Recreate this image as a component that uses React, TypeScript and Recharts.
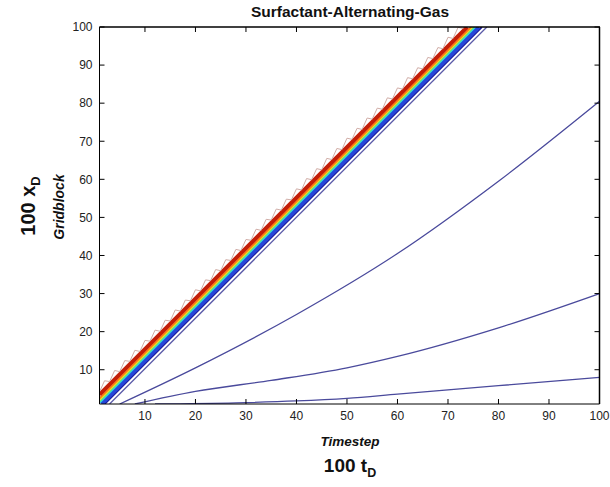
import { LineChart, Line, XAxis, YAxis } from "recharts";

// contour lines of the SAG front as [timestep, gridblock] pairs
const xTicks = [10, 20, 30, 40, 50, 60, 70, 80, 90, 100];
const yTicks = [10, 20, 30, 40, 50, 60, 70, 80, 90, 100];

const redFront = [[1, 3.5], [73.8, 100]];
const orangeFront = [[1, 2.5], [74.55, 100]];
const yellowFront = [[1, 2.1], [74.85, 100]];
const greenFront = [[1, 1.7], [75.15, 100]];
const cyanFront = [[1, 1.3], [75.45, 100]];
const blueFront = [[1.4, 1], [76.1, 100]];
const darkBlueFront = [[2.0, 1], [76.7, 100]];
const trailA = [[3.0, 1], [77.7, 100]];
const trailB = [[5, 1], [20, 10.5], [40, 24.5], [60, 40.5], [80, 59.5], [100, 80.5]];
const trailC = [[8, 1], [20, 4.3], [35, 7.2], [50, 10.5], [60, 13.5], [80, 21], [100, 30]];
const trailD = [[12, 1], [28, 1.3], [40, 1.8], [50, 2.5], [60, 3.6], [80, 5.8], [100, 8]];

const rippleEdge = [
  [1, 4.2], [2, 7.1], [3, 6.9], [4, 9.8], [5, 9.5], [6, 12.4], [7, 12.2], [8, 15.1],
  [9, 14.8], [10, 17.7], [11, 17.5], [12, 20.4], [13, 20.1], [14, 23.0], [15, 22.8],
  [16, 25.7], [17, 25.4], [18, 28.3], [19, 28.1], [20, 31.0], [21, 30.7], [22, 33.6],
  [23, 33.4], [24, 36.3], [25, 36.0], [26, 38.9], [27, 38.7], [28, 41.6], [29, 41.3],
  [30, 44.2], [31, 44.0], [32, 46.9], [33, 46.6], [34, 49.5], [35, 49.3], [36, 52.2],
  [37, 51.9], [38, 54.8], [39, 54.6], [40, 57.5], [41, 57.2], [42, 60.2], [43, 59.9],
  [44, 62.8], [45, 62.5], [46, 65.5], [47, 65.2], [48, 68.1], [49, 67.8], [50, 70.8],
  [51, 70.5], [52, 73.4], [53, 73.1], [54, 76.1], [55, 75.8], [56, 78.7], [57, 78.4],
  [58, 81.4], [59, 81.1], [60, 84.0], [61, 83.7], [62, 86.7], [63, 86.4], [64, 89.3],
  [65, 89.0], [66, 92.0], [67, 91.7], [68, 94.6], [69, 94.3], [70, 97.3], [71, 97.0],
  [72, 99.9], [73, 99.6], [74, 102.6],
];

const toRows = (arr: number[][]) => arr.map(([t, x]) => ({ t, x }));

const series = [
  { key: "trailD", pts: trailD, color: "#4a4a9c", width: 1.3, curve: "monotone" },
  { key: "trailC", pts: trailC, color: "#4a4a9c", width: 1.3, curve: "monotone" },
  { key: "trailB", pts: trailB, color: "#4a4a9c", width: 1.3, curve: "monotone" },
  { key: "trailA", pts: trailA, color: "#5a5aa8", width: 1.3, curve: "linear" },
  { key: "darkBlue", pts: darkBlueFront, color: "#1a1aa0", width: 2, curve: "linear" },
  { key: "blue", pts: blueFront, color: "#2646d8", width: 4, curve: "linear" },
  { key: "cyan", pts: cyanFront, color: "#20d0e8", width: 1.6, curve: "linear" },
  { key: "green", pts: greenFront, color: "#70e070", width: 1.6, curve: "linear" },
  { key: "yellow", pts: yellowFront, color: "#f0e020", width: 1.6, curve: "linear" },
  { key: "orange", pts: orangeFront, color: "#ff7a10", width: 1.8, curve: "linear" },
  { key: "red", pts: redFront, color: "#c41e08", width: 4, curve: "linear" },
  { key: "ripple", pts: rippleEdge, color: "#d0aca6", width: 1, curve: "linear" },
] as const;

// plot box, must agree with the chart margins / axis sizes below
const box = { left: 99.5, right: 599.5, top: 27, bottom: 404 };
const sx = (v: number) => box.left + ((v - 1) / 99) * (box.right - box.left);
const sy = (v: number) => box.bottom - ((v - 1) / 99) * (box.bottom - box.top);

const font = "Arial, 'Liberation Sans', sans-serif";
const tickStyle = { fontSize: 12, fill: "#222", fontFamily: font };

export default function App() {
  return (
    <div
      style={{
        position: "absolute",
        left: 0,
        top: 0,
        width: 610,
        height: 487,
        background: "#fff",
        fontFamily: font,
        color: "#111",
      }}
    >
      <LineChart
        width={610}
        height={487}
        margin={{ top: box.top, right: 610 - box.right, left: box.left - 40, bottom: 487 - box.bottom - 30 }}
      >
        <XAxis
          dataKey="t"
          type="number"
          domain={[1, 100]}
          ticks={xTicks}
          allowDataOverflow
          height={30}
          tick={tickStyle}
          tickSize={-5}
          tickMargin={12}
          stroke="#000"
        />
        <YAxis
          type="number"
          domain={[1, 100]}
          ticks={yTicks}
          allowDataOverflow
          width={40}
          tick={tickStyle}
          tickSize={-5}
          tickMargin={12}
          stroke="#000"
        />
        {series.map((s) => (
          <Line
            key={s.key}
            data={toRows(s.pts as unknown as number[][])}
            dataKey="x"
            type={s.curve}
            stroke={s.color}
            strokeWidth={s.width}
            strokeLinejoin="round"
            dot={false}
            activeDot={false}
            isAnimationActive={false}
          />
        ))}
      </LineChart>

      {/* top and right edges of the axes box (MATLAB "box on"), drawn over the chart */}
      <svg
        width={610}
        height={487}
        style={{ position: "absolute", left: 0, top: 0, zIndex: 5, pointerEvents: "none" }}
      >
        <line x1={box.left} x2={box.right + 0.5} y1={box.top} y2={box.top} stroke="#000" strokeWidth={1.5} />
        <line x1={box.right} x2={box.right} y1={box.top} y2={box.bottom} stroke="#000" strokeWidth={1.5} />
        {xTicks.map((t) => (
          <line key={`tt${t}`} x1={sx(t)} x2={sx(t)} y1={box.top} y2={box.top + 5} stroke="#000" />
        ))}
        {yTicks.map((t) => (
          <line key={`rt${t}`} x1={box.right - 5} x2={box.right} y1={sy(t)} y2={sy(t)} stroke="#000" />
        ))}
      </svg>

      <div
        style={{
          position: "absolute",
          left: 100,
          width: 500,
          top: 4,
          textAlign: "center",
          fontSize: 15.5,
          fontWeight: "bold",
          lineHeight: 1,
        }}
      >
        Surfactant-Alternating-Gas
      </div>

      <div
        style={{
          position: "absolute",
          left: 30,
          top: 206,
          transform: "translate(-50%, -50%) rotate(-90deg)",
          whiteSpace: "nowrap",
          fontSize: 20,
          fontWeight: "bold",
          lineHeight: 1,
        }}
      >
        100 x<sub style={{ fontSize: 13 }}>D</sub>
      </div>
      <div
        style={{
          position: "absolute",
          left: 59,
          top: 207,
          transform: "translate(-50%, -50%) rotate(-90deg)",
          whiteSpace: "nowrap",
          fontSize: 14,
          fontWeight: "bold",
          fontStyle: "italic",
          lineHeight: 1,
        }}
      >
        Gridblock
      </div>

      <div
        style={{
          position: "absolute",
          left: 100,
          width: 500,
          top: 435,
          textAlign: "center",
          fontSize: 13.5,
          fontWeight: "bold",
          fontStyle: "italic",
          lineHeight: 1,
        }}
      >
        Timestep
      </div>
      <div
        style={{
          position: "absolute",
          left: 100,
          width: 500,
          top: 456,
          textAlign: "center",
          fontSize: 19,
          fontWeight: "bold",
          lineHeight: 1,
        }}
      >
        100 t<sub style={{ fontSize: 12.5 }}>D</sub>
      </div>
    </div>
  );
}
